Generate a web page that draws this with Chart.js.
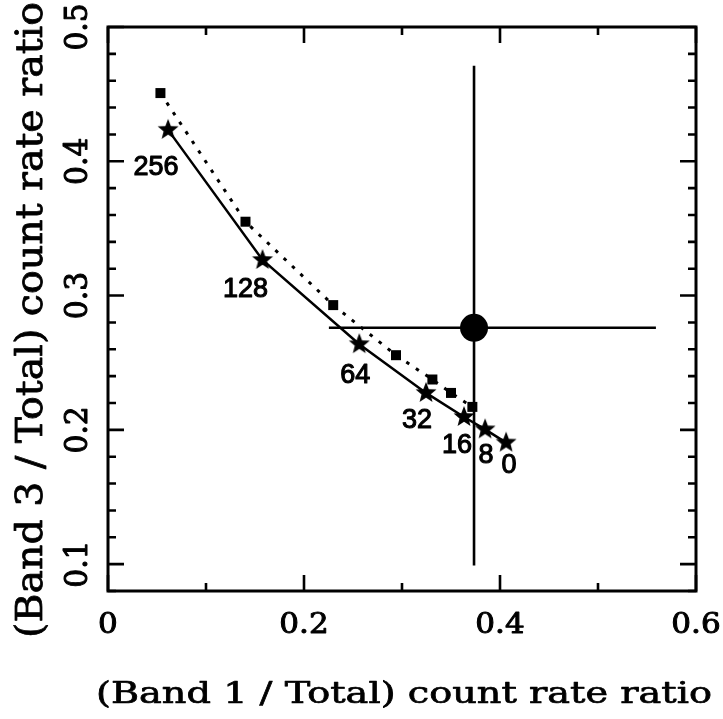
<!DOCTYPE html>
<html>
<head>
<meta charset="utf-8">
<script src="https://cdn.jsdelivr.net/npm/chart.js@4.4.1/dist/chart.umd.min.js"></script>
<style>
  html, body { margin: 0; padding: 0; background: #ffffff; }
  #wrap { width: 723px; height: 719px; }
</style>
</head>
<body>
<div id="wrap"><canvas id="c" width="723" height="719"></canvas></div>
<script>
// ---------------- data ----------------
const starX = [0.0613, 0.1577, 0.2564, 0.3245, 0.3633, 0.3848, 0.4062];
const starY = [0.4234, 0.3265, 0.2638, 0.2275, 0.2096, 0.2004, 0.1905];
const starLabels = ['256', '128', '64', '32', '16', '8', '0'];

const squareX = [0.0535, 0.1403, 0.2298, 0.2939, 0.3310, 0.3500, 0.3718];
const squareY = [0.4508, 0.3550, 0.2929, 0.2556, 0.2375, 0.2275, 0.2171];

const obsX = [0.3735];
const obsY = [0.2760];
const obsXRange = [0.2254, 0.5591];
const obsYRange = [0.0990, 0.4711];

const xTickValues = [0, 0.2, 0.4, 0.6];
const xTickLabels = ['0', '0.2', '0.4', '0.6'];
const xMinorTicks = [0.1, 0.3, 0.5];
const yTickValues = [0.1, 0.2, 0.3, 0.4, 0.5];
const yTickLabels = ['0.1', '0.2', '0.3', '0.4', '0.5'];
const yMinorTicks = [0.08, 0.12, 0.14, 0.16, 0.18, 0.22, 0.24, 0.26, 0.28, 0.32, 0.34, 0.36, 0.38, 0.42, 0.44, 0.46, 0.48];

const xTitle = '(Band 1 / Total) count rate ratio';
const yTitle = '(Band 3 / Total) count rate ratio';

// ---------------- styling helpers ----------------
// pixel offsets of the model labels relative to their star
const labelOffsets = [[-12, 35], [-17, 27], [-4, 29], [-9, 25], [-7, 26], [1, 24], [3, 21]];

function makeStar(outer) {
  const size = Math.ceil(outer * 2 + 4);
  const cv = document.createElement('canvas');
  cv.width = size; cv.height = size;
  const g = cv.getContext('2d');
  const cx = size / 2, cy = size / 2, inner = outer * 0.43;
  g.beginPath();
  for (let i = 0; i < 10; i++) {
    const r = i % 2 === 0 ? outer : inner;
    const a = -Math.PI / 2 + i * Math.PI / 5;
    const px = cx + r * Math.cos(a), py = cy + r * Math.sin(a);
    if (i === 0) g.moveTo(px, py); else g.lineTo(px, py);
  }
  g.closePath();
  g.fillStyle = '#000';
  g.fill();
  return cv;
}
const starImg = makeStar(11);

function drawText(ctx, text, x, y, rot, font, sx, sy, capRatio, targetLen, strokeW) {
  ctx.save();
  ctx.font = font;
  if (targetLen) sx = targetLen / ctx.measureText(text).width;
  ctx.translate(x, y);
  ctx.rotate(rot);
  ctx.scale(sx, sy);
  ctx.textAlign = 'center';
  ctx.textBaseline = 'alphabetic';
  const m = /(\d+(?:\.\d+)?)px/.exec(font);
  const fs = m ? parseFloat(m[1]) : 20;
  ctx.fillStyle = '#000';
  ctx.fillText(text, 0, capRatio * fs / 2);
  if (strokeW) {
    ctx.strokeStyle = '#000';
    ctx.lineJoin = 'round';
    ctx.lineWidth = strokeW / ((sx + sy) / 2);
    ctx.strokeText(text, 0, capRatio * fs / 2);
  }
  ctx.restore();
}

const framePlugin = {
  id: 'frame',
  afterDraw(chart) {
    const ctx = chart.ctx;
    const xs = chart.scales.x, ys = chart.scales.y;
    const a = chart.chartArea;
    ctx.save();
    ctx.strokeStyle = '#000';
    ctx.lineWidth = 3;
    ctx.lineCap = 'square';
    ctx.strokeRect(a.left, a.top, a.right - a.left, a.bottom - a.top);
    ctx.lineWidth = 2.6;
    ctx.lineCap = 'butt';
    const majorLen = 16, minorLen = 8;
    ctx.beginPath();
    xTickValues.forEach(v => {
      const p = xs.getPixelForValue(v);
      ctx.moveTo(p, a.bottom); ctx.lineTo(p, a.bottom - majorLen);
      ctx.moveTo(p, a.top); ctx.lineTo(p, a.top + majorLen);
    });
    xMinorTicks.forEach(v => {
      const p = xs.getPixelForValue(v);
      ctx.moveTo(p, a.bottom); ctx.lineTo(p, a.bottom - minorLen);
      ctx.moveTo(p, a.top); ctx.lineTo(p, a.top + minorLen);
    });
    yTickValues.forEach(v => {
      const p = ys.getPixelForValue(v);
      ctx.moveTo(a.left, p); ctx.lineTo(a.left + majorLen, p);
      ctx.moveTo(a.right, p); ctx.lineTo(a.right - majorLen, p);
    });
    yMinorTicks.forEach(v => {
      const p = ys.getPixelForValue(v);
      ctx.moveTo(a.left, p); ctx.lineTo(a.left + minorLen, p);
      ctx.moveTo(a.right, p); ctx.lineTo(a.right - minorLen, p);
    });
    ctx.stroke();

    const tickFont = '27px "DejaVu Serif"';
    xTickValues.forEach((v, i) => {
      drawText(ctx, xTickLabels[i], xs.getPixelForValue(v), a.bottom + 32, 0, tickFont, 1.15, 1, 0.729, 0, 1.0);
    });
    yTickValues.forEach((v, i) => {
      drawText(ctx, yTickLabels[i], a.left - 33, ys.getPixelForValue(v), -Math.PI / 2, tickFont, 1.1, 1.2, 0.729, 0, 1.0);
    });

    const titleFont = '29px "DejaVu Serif"';
    drawText(ctx, xTitle, (a.left + a.right) / 2 + 2, 692.5, 0, titleFont, 1, 1, 0.729, 616, 0.8);
    drawText(ctx, yTitle, 28, 320, -Math.PI / 2, titleFont, 1, 1.29, 0.729, 636, 0.8);

    const lblFont = '27px "Liberation Sans"';
    starLabels.forEach((t, i) => {
      const px = xs.getPixelForValue(starX[i]) + labelOffsets[i][0];
      const py = ys.getPixelForValue(starY[i]) + labelOffsets[i][1];
      drawText(ctx, t, px, py, 0, lblFont, 1, 1, 0.716, 0, 1.1);
    });
    ctx.restore();
  }
};

const toPts = (xa, ya) => xa.map((x, i) => ({ x: x, y: ya[i] }));

new Chart(document.getElementById('c'), {
  type: 'scatter',
  data: {
    datasets: [
      {
        label: 'model (stars)',
        data: toPts(starX, starY),
        showLine: true,
        borderColor: '#000',
        borderWidth: 2.5,
        pointStyle: starImg,
        pointRadius: 10,
        backgroundColor: '#000'
      },
      {
        label: 'model (squares)',
        data: toPts(squareX, squareY),
        showLine: true,
        borderColor: '#000',
        borderWidth: 3,
        borderDash: [3.5, 8],
        pointStyle: 'rect',
        pointRadius: 7.07,
        pointBorderWidth: 0,
        backgroundColor: '#000'
      },
      {
        label: 'observed',
        data: toPts(obsX, obsY),
        pointStyle: 'circle',
        pointRadius: 14,
        pointBorderWidth: 0,
        backgroundColor: '#000'
      },
      {
        label: 'x error',
        data: obsXRange.map(x => ({ x: x, y: obsY[0] })),
        showLine: true,
        borderColor: '#000',
        borderWidth: 2.6,
        pointRadius: 0
      },
      {
        label: 'y error',
        data: obsYRange.map(y => ({ x: obsX[0], y: y })),
        showLine: true,
        borderColor: '#000',
        borderWidth: 2.6,
        pointRadius: 0
      }
    ]
  },
  options: {
    responsive: false,
    animation: false,
    devicePixelRatio: 1,
    layout: { padding: { left: 108, right: 27, top: 27, bottom: 128 } },
    plugins: { legend: { display: false }, tooltip: { enabled: false } },
    scales: {
      x: { type: 'linear', min: 0, max: 0.6, display: false },
      y: { type: 'linear', min: 0.08, max: 0.5, display: false }
    }
  },
  plugins: [framePlugin]
});
</script>
</body>
</html>
